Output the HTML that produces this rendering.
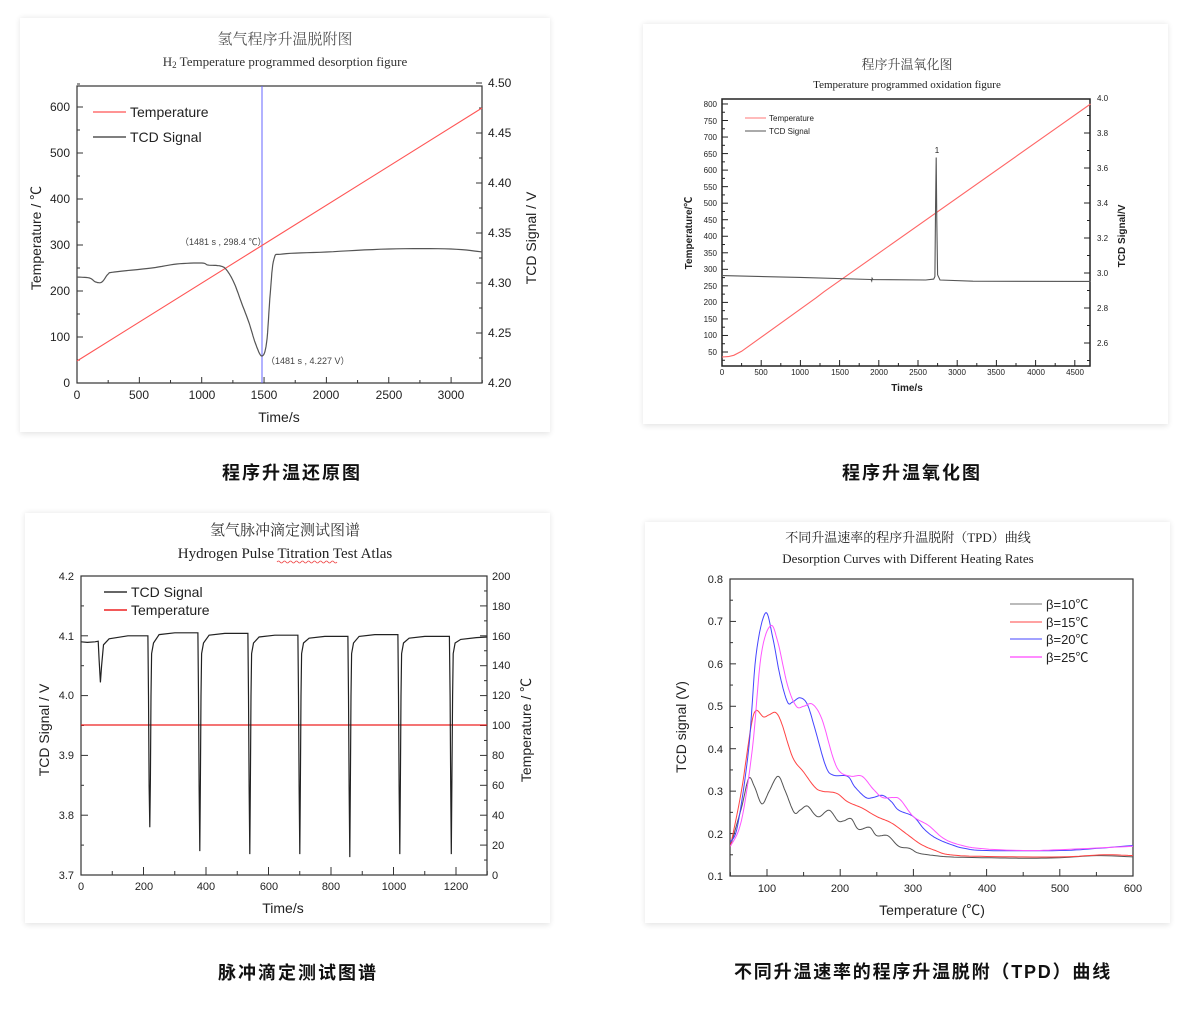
<!DOCTYPE html>
<html><head><meta charset="utf-8">
<style>
body{margin:0;background:#fff;width:1200px;height:1018px;overflow:hidden;}
svg{display:block}
.s{font-family:"Liberation Sans","Noto Sans CJK SC",sans-serif}
.r{font-family:"Liberation Serif","Noto Serif CJK SC",serif}
</style></head><body>
<svg id="svg" width="1200" height="1018" viewBox="0 0 1200 1018" xmlns="http://www.w3.org/2000/svg">
<defs><filter id="sh" x="-5%" y="-5%" width="110%" height="110%"><feGaussianBlur stdDeviation="3"/></filter></defs>
<g fill="#000" opacity="0.10" filter="url(#sh)">
<rect x="20" y="18" width="530" height="416"/><rect x="643" y="24" width="525" height="402"/>
<rect x="25" y="513" width="525" height="412"/><rect x="645" y="522" width="525" height="403"/>
</g>
<g fill="#fff">
<rect x="20" y="18" width="530" height="414"/><rect x="643" y="24" width="525" height="400"/>
<rect x="25" y="513" width="525" height="410"/><rect x="645" y="522" width="525" height="401"/>
</g>

<!-- captions -->
<g class="s" font-size="18" font-weight="bold" text-anchor="middle" fill="#111" letter-spacing="2">
<text x="292" y="479">程序升温还原图</text>
<text x="912" y="479">程序升温氧化图</text>
<text x="298" y="979">脉冲滴定测试图谱</text>
<text x="923" y="978" letter-spacing="1.8">不同升温速率的程序升温脱附（TPD）曲线</text>
</g>

<!-- Chart 1 -->
<g class="r" text-anchor="middle" fill="#333">
<text x="285" y="44" font-size="15" fill="#555">氢气程序升温脱附图</text>
<text x="285" y="66" font-size="13">H<tspan font-size="9" dy="2">2</tspan><tspan dy="-2"> Temperature programmed desorption figure</tspan></text>
</g>
<rect x="77" y="86" width="405" height="297" fill="none" stroke="#333" stroke-width="1.2"/>
<g id="t1"></g>
<g class="s" font-size="12" fill="#222">
<g text-anchor="end"><text x="70" y="387">0</text><text x="70" y="341">100</text><text x="70" y="295">200</text><text x="70" y="249">300</text><text x="70" y="203">400</text><text x="70" y="157">500</text><text x="70" y="111">600</text></g>
<g text-anchor="middle"><text x="77" y="399">0</text><text x="139" y="399">500</text><text x="202" y="399">1000</text><text x="264" y="399">1500</text><text x="326" y="399">2000</text><text x="389" y="399">2500</text><text x="451" y="399">3000</text></g>
<g><text x="488" y="387">4.20</text><text x="488" y="337">4.25</text><text x="488" y="287">4.30</text><text x="488" y="237">4.35</text><text x="488" y="187">4.40</text><text x="488" y="137">4.45</text><text x="488" y="87">4.50</text></g>
<text x="279" y="422" text-anchor="middle" font-size="14">Time/s</text>
<text transform="translate(41,238) rotate(-90)" text-anchor="middle" font-size="14">Temperature / ℃</text>
<text transform="translate(536,238) rotate(-90)" text-anchor="middle" font-size="14">TCD Signal / V</text>
<text x="130" y="117" font-size="14">Temperature</text>
<text x="130" y="142" font-size="14">TCD Signal</text>
<text x="180" y="245" font-size="9" fill="#444">（1481 s , 298.4 ℃）</text>
<text x="266" y="364" font-size="9" fill="#444">（1481 s , 4.227 V）</text>
</g>
<line x1="93" y1="112" x2="126" y2="112" stroke="#f55" stroke-width="1.2"/>
<line x1="93" y1="137" x2="126" y2="137" stroke="#555" stroke-width="1.5"/>
<line x1="262" y1="86" x2="262" y2="383" stroke="#66f" stroke-width="1"/>
<path id="c1t" fill="none" stroke="#f55" stroke-width="1.1"/>
<path id="c1s" fill="none" stroke="#555" stroke-width="1.2"/>

<!-- Chart 2 -->
<g class="r" text-anchor="middle" fill="#333">
<text x="907" y="69" font-size="13" fill="#444">程序升温氧化图</text>
<text x="907" y="88" font-size="11" fill="#222">Temperature programmed oxidation figure</text>
</g>
<rect x="722" y="99" width="368" height="267" fill="none" stroke="#222" stroke-width="1.5"/>
<g id="t2"></g>
<g class="s" font-size="8" fill="#222">
<g text-anchor="end"><text x="717" y="355">50</text><text x="717" y="338">100</text><text x="717" y="322">150</text><text x="717" y="305">200</text><text x="717" y="289">250</text><text x="717" y="272">300</text><text x="717" y="256">350</text><text x="717" y="239">400</text><text x="717" y="223">450</text><text x="717" y="206">500</text><text x="717" y="190">550</text><text x="717" y="173">600</text><text x="717" y="157">650</text><text x="717" y="140">700</text><text x="717" y="124">750</text><text x="717" y="107">800</text></g>
<g text-anchor="middle"><text x="722" y="375">0</text><text x="761" y="375">500</text><text x="800" y="375">1000</text><text x="840" y="375">1500</text><text x="879" y="375">2000</text><text x="918" y="375">2500</text><text x="957" y="375">3000</text><text x="996" y="375">3500</text><text x="1036" y="375">4000</text><text x="1075" y="375">4500</text></g>
<g><text x="1097" y="346">2.6</text><text x="1097" y="311">2.8</text><text x="1097" y="276">3.0</text><text x="1097" y="241">3.2</text><text x="1097" y="206">3.4</text><text x="1097" y="171">3.6</text><text x="1097" y="136">3.8</text><text x="1097" y="101">4.0</text></g>
<text x="907" y="391" text-anchor="middle" font-size="10" font-weight="bold">Time/s</text>
<text transform="translate(692,233) rotate(-90)" text-anchor="middle" font-size="10" font-weight="bold">Temperature/℃</text>
<text transform="translate(1125,236) rotate(-90)" text-anchor="middle" font-size="10" font-weight="bold">TCD Signal/V</text>
<text x="769" y="121" font-size="8">Temperature</text>
<text x="769" y="134" font-size="8">TCD Signal</text>
<text x="937" y="153" font-size="8" text-anchor="middle">1</text>
</g>
<line x1="745" y1="118" x2="766" y2="118" stroke="#f77" stroke-width="1"/>
<line x1="745" y1="131" x2="766" y2="131" stroke="#555" stroke-width="1"/>
<path id="c2t" fill="none" stroke="#f66" stroke-width="1.1"/>
<path id="c2s" fill="none" stroke="#555" stroke-width="1.1"/>

<!-- Chart 3 -->
<g class="r" text-anchor="middle" fill="#222">
<text x="285" y="535" font-size="15" fill="#333">氢气脉冲滴定测试图谱</text>
<text x="285" y="558" font-size="15">Hydrogen Pulse Titration Test Atlas</text>
</g>
<path d="M277 562 q1.5 -2 3 0 t3 0 t3 0 t3 0 t3 0 t3 0 t3 0 t3 0 t3 0 t3 0 t3 0 t3 0 t3 0 t3 0 t3 0 t3 0 t3 0 t3 0 t3 0 t3 0" fill="none" stroke="#e44" stroke-width="0.8"/>
<rect x="81" y="576" width="406" height="299" fill="none" stroke="#333" stroke-width="1.2"/>
<g id="t3"></g>
<g class="s" font-size="11" fill="#222">
<g text-anchor="end"><text x="74" y="879">3.7</text><text x="74" y="819">3.8</text><text x="74" y="759">3.9</text><text x="74" y="699">4.0</text><text x="74" y="640">4.1</text><text x="74" y="580">4.2</text></g>
<g><text x="492" y="879">0</text><text x="492" y="849">20</text><text x="492" y="819">40</text><text x="492" y="789">60</text><text x="492" y="759">80</text><text x="492" y="729">100</text><text x="492" y="699">120</text><text x="492" y="669">140</text><text x="492" y="640">160</text><text x="492" y="610">180</text><text x="492" y="580">200</text></g>
<g text-anchor="middle"><text x="81" y="890">0</text><text x="144" y="890">200</text><text x="206" y="890">400</text><text x="269" y="890">600</text><text x="331" y="890">800</text><text x="394" y="890">1000</text><text x="456" y="890">1200</text></g>
<text x="283" y="913" text-anchor="middle" font-size="14">Time/s</text>
<text transform="translate(49,730) rotate(-90)" text-anchor="middle" font-size="14">TCD Signal / V</text>
<text transform="translate(531,730) rotate(-90)" text-anchor="middle" font-size="14">Temperature / ℃</text>
<text x="131" y="597" font-size="14">TCD Signal</text>
<text x="131" y="615" font-size="14">Temperature</text>
</g>
<line x1="104" y1="592" x2="127" y2="592" stroke="#333" stroke-width="1.5"/>
<line x1="104" y1="610" x2="127" y2="610" stroke="#e22" stroke-width="1.5"/>
<line x1="81" y1="725" x2="487" y2="725" stroke="#e22" stroke-width="1.3"/>
<path id="c3s" fill="none" stroke="#222" stroke-width="1.2"/>

<!-- Chart 4 -->
<g class="r" text-anchor="middle" fill="#222">
<text x="908" y="542" font-size="13">不同升温速率的程序升温脱附（TPD）曲线</text>
<text x="908" y="563" font-size="13">Desorption Curves with Different Heating Rates</text>
</g>
<rect x="730" y="579" width="403" height="297" fill="none" stroke="#333" stroke-width="1.2"/>
<g id="t4"></g>
<g class="s" font-size="11" fill="#222">
<g text-anchor="end"><text x="723" y="880">0.1</text><text x="723" y="838">0.2</text><text x="723" y="795">0.3</text><text x="723" y="753">0.4</text><text x="723" y="710">0.5</text><text x="723" y="668">0.6</text><text x="723" y="625">0.7</text><text x="723" y="583">0.8</text></g>
<g text-anchor="middle"><text x="767" y="892">100</text><text x="840" y="892">200</text><text x="913" y="892">300</text><text x="987" y="892">400</text><text x="1060" y="892">500</text><text x="1133" y="892">600</text></g>
<text x="932" y="915" text-anchor="middle" font-size="14">Temperature (℃)</text>
<text transform="translate(686,727) rotate(-90)" text-anchor="middle" font-size="14">TCD  signal (V)</text>
<g font-size="13"><text x="1046" y="609">β=10℃</text><text x="1046" y="627">β=15℃</text><text x="1046" y="644">β=20℃</text><text x="1046" y="662">β=25℃</text></g>
</g>
<line x1="1010" y1="604" x2="1042" y2="604" stroke="#777" stroke-width="1"/>
<line x1="1010" y1="622" x2="1042" y2="622" stroke="#f44" stroke-width="1"/>
<line x1="1010" y1="639" x2="1042" y2="639" stroke="#44f" stroke-width="1"/>
<line x1="1010" y1="657" x2="1042" y2="657" stroke="#f6f" stroke-width="1.5"/>
<path id="c4a" fill="none" stroke="#555" stroke-width="1"/>
<path id="c4b" fill="none" stroke="#f44" stroke-width="1"/>
<path id="c4c" fill="none" stroke="#44f" stroke-width="1"/>
<path id="c4d" fill="none" stroke="#f5f" stroke-width="1"/>
</svg>
<script>
function P(pts,fx,fy){var s='';for(var i=0;i<pts.length;i++){s+=(i?'L':'M')+fx(pts[i][0]).toFixed(1)+' '+fy(pts[i][1]).toFixed(1);}return s;}
function smooth(pts){var out=[];for(var i=0;i<pts.length-1;i++){var p0=pts[Math.max(0,i-1)],p1=pts[i],p2=pts[i+1],p3=pts[Math.min(pts.length-1,i+2)];for(var k=0;k<8;k++){var t=k/8,t2=t*t,t3=t2*t;var f=function(a,b,c,d){return 0.5*((2*b)+(-a+c)*t+(2*a-5*b+4*c-d)*t2+(-a+3*b-3*c+d)*t3)};out.push([f(p0[0],p1[0],p2[0],p3[0]),f(p0[1],p1[1],p2[1],p3[1])]);}}out.push(pts[pts.length-1]);return out;}
function set(id,d){document.getElementById(id).setAttribute('d',d);}
function ticks(gid,arr,col){var s='';arr.forEach(function(a){s+='<line x1="'+a[0]+'" y1="'+a[1]+'" x2="'+a[2]+'" y2="'+a[3]+'"/>';});document.getElementById(gid).innerHTML=s;document.getElementById(gid).setAttribute('stroke',col||'#333');}
// chart1
(function(){var fx=function(t){return 77+t*0.1247},fy=function(T){return 383-T*0.46},fv=function(v){return 383-(v-4.2)*1000};
set('c1t','M77 361 L482 108');
set('c1s',P(smooth([[0,4.306],[100,4.305],[150,4.301],[200,4.301],[250,4.309],[300,4.311],[600,4.315],[800,4.319],[1000,4.320],[1050,4.318],[1150,4.317],[1200,4.313],[1260,4.300],[1320,4.280],[1380,4.260],[1430,4.240],[1481,4.227],[1520,4.240],[1550,4.290],[1580,4.324],[1650,4.329],[2000,4.331],[2500,4.334],[3000,4.334],[3250,4.331]]),fx,fv));
var a=[];for(var t=0;t<=3250;t+=250){var x=fx(t);a.push([x,383,x,t%500?380:377]);}
for(var T=0;T<=650;T+=50){var y=fy(T);a.push([77,y,T%100?80:83,y]);}
for(var v=0;v<=30;v+=2.5){var y=383-v*10;a.push([482,y,v%5?479:476,y]);}
ticks('t1',a);})();
// chart2
(function(){var fx=function(t){return 722+t*0.0784},fy=function(T){return 352-(T-50)*0.3307},fv=function(v){return 343-(v-2.6)*175};
set('c2t',P([[0,35],[80,36],[150,40],[250,52],[1200,214],[1300,232],[4700,800]],fx,fy));
set('c2s',P([[0,2.985],[1000,2.975],[1900,2.963],[1910,2.955],[1915,2.97],[1925,2.962],[2600,2.96],[2700,2.965],[2715,2.98],[2725,3.4],[2732,3.66],[2740,3.3],[2750,2.99],[2780,2.96],[3200,2.953],[4700,2.952]],fx,fv));
var a=[];for(var t=0;t<=4700;t+=250){var x=fx(t);a.push([x,366,x,t%500?363:360]);}
for(var T=25;T<=825;T+=25){var y=fy(T);if(y<99)continue;a.push([722,y,T%50?725:728,y]);}
for(var v=2.5;v<=4.0;v+=0.1){var y=fv(v);if(y>366)continue;a.push([1090,y,Math.round(v*10)%2?1087:1084,y]);}
ticks('t2',a,'#222');})();
// chart3
(function(){var fx=function(t){return 81+t*0.3125},fv=function(v){return 875-(v-3.7)*598};
var pts=[[0,4.09],[20,4.089],[45,4.09],[55,4.091],[58,4.06],[62,4.022],[66,4.05],[72,4.085],[90,4.095],[150,4.1]];
var dips=[[220,3.78,4.1],[380,3.74,4.107],[540,3.735,4.104],[700,3.735,4.101],[860,3.73,4.098],[1020,3.735,4.102],[1185,3.735,4.099]];
var plats=[4.1,4.105,4.104,4.101,4.099,4.102,4.099,4.097];
dips.forEach(function(d,i){var t=d[0];pts.push([t-6,plats[i]]);pts.push([t-4,4.0]);pts.push([t-2,3.85]);pts.push([t,d[1]]);pts.push([t+2,3.86]);pts.push([t+4,4.0]);pts.push([t+6,4.07]);pts.push([t+12,4.088]);pts.push([t+30,plats[i+1]-0.003]);pts.push([t+80,plats[i+1]]);});
pts.push([1300,4.098]);
set('c3s',P(pts,fx,fv));
var a=[];for(var t=0;t<=1300;t+=100){var x=fx(t);a.push([x,875,x,t%200?871:867]);}
for(var v=0;v<=50;v+=5){var y=875-v*5.98;a.push([81,y,v%10?84:88,y]);}
for(var T=0;T<=200;T+=10){var y=875-T*1.495;a.push([487,y,T%20?484:480,y]);}
ticks('t3',a);})();
// chart4
(function(){var fx=function(t){return 767+(t-100)*0.732},fy=function(v){return 876-(v-0.1)*424.3};
var A=[[50,.17],[65,.26],[75,.33],[83,.31],[93,.27],[103,.30],[115,.335],[125,.30],[137,.25],[145,.255],[155,.265],[165,.245],[172,.24],[185,.255],[197,.23],[205,.23],[215,.235],[225,.21],[240,.215],[250,.195],[265,.195],[280,.17],[295,.165],[305,.155],[320,.15],[350,.145],[400,.143],[450,.142],[500,.143],[550,.148],[600,.145]];
var B=[[50,.17],[65,.30],[78,.45],[85,.49],[95,.475],[103,.48],[112,.485],[120,.46],[135,.38],[150,.345],[165,.31],[175,.30],[195,.295],[210,.275],[230,.26],[250,.24],[270,.225],[290,.20],[310,.175],[330,.16],[350,.15],[400,.146],[500,.145],[560,.15],[600,.148]];
var C=[[50,.18],[60,.22],[75,.40],[85,.62],[98,.72],[108,.66],[118,.57],[128,.51],[135,.51],[145,.52],[155,.505],[165,.45],[180,.36],[190,.338],[210,.335],[220,.31],[235,.285],[245,.285],[258,.29],[270,.275],[280,.255],[300,.24],[315,.21],[330,.19],[350,.175],[370,.165],[400,.16],[500,.16],[550,.165],[600,.172]];
var D=[[50,.17],[65,.23],[80,.40],[92,.62],[105,.69],[115,.65],[128,.55],[140,.50],[150,.50],[162,.505],[175,.47],[190,.38],[200,.345],[215,.335],[230,.335],[245,.305],[258,.285],[272,.285],[282,.28],[300,.24],[320,.22],[340,.19],[360,.175],[390,.165],[450,.16],[500,.162],[600,.17]];
set('c4a',P(smooth(A),fx,fy));set('c4b',P(smooth(B),fx,fy));set('c4c',P(smooth(C),fx,fy));set('c4d',P(smooth(D),fx,fy));
var a=[];for(var t=50;t<=600;t+=50){var x=fx(t);a.push([x,876,x,t%100?872:869]);}
for(var v=0.1;v<=0.81;v+=0.05){var y=fy(v);a.push([730,y,Math.round(v*100)%10?733:736,y]);}
ticks('t4',a);})();
</script>
</body></html>
